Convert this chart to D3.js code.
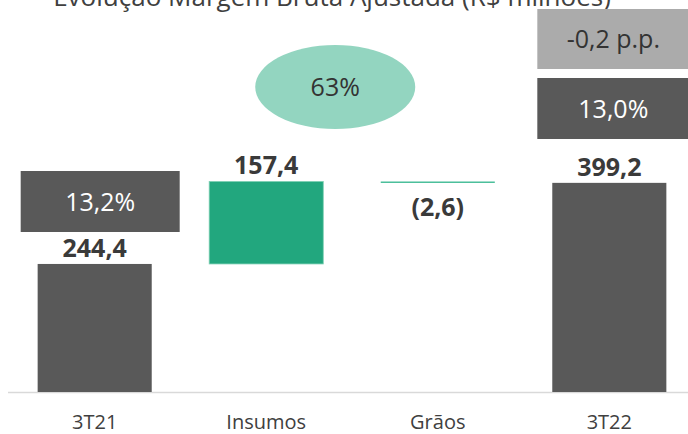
<!DOCTYPE html>
<html>
<head>
<meta charset="utf-8">
<script src="https://cdn.jsdelivr.net/npm/d3@7"></script>
<style>
  body { margin: 0; background: #fff; }
  svg { display: block; font-family: "Open Sans", sans-serif; }
</style>
</head>
<body>
<div id="chart"></div>
<script>
var categories = ["3T21", "Insumos", "Grãos", "3T22"];
var values = [244.4, 157.4, -2.6, 399.2];
var valueLabels = ["244,4", "157,4", "(2,6)", "399,2"];
var kinds = ["total", "delta", "delta", "total"];
var marginStart = "13,2%";
var marginEnd = "13,0%";
var marginDelta = "-0,2 p.p.";
var shareLabel = "63%";
var title = "Evolução Margem Bruta Ajustada (R$ milhões)";

var svgWidth = 688;
var svgHeight = 434;

var svg = d3.select("#chart")
  .append("svg")
  .attr("width", svgWidth)
  .attr("height", svgHeight);

// waterfall steps
var steps = [];
var running = 0;
values.forEach(function(v, i) {
  if (kinds[i] === "total") {
    steps.push({ cat: categories[i], y0: 0, y1: v, label: valueLabels[i], kind: "total" });
    running = v;
  } else {
    steps.push({ cat: categories[i], y0: running, y1: running + v, label: valueLabels[i], kind: v >= 0 ? "up" : "down" });
    running += v;
  }
});

var xScale = d3.scaleBand()
  .domain(categories)
  .range([9, 695])
  .paddingInner(0.335)
  .paddingOuter(0.167);

var yScale = d3.scaleLinear()
  .domain([0, 460])
  .range([392, 151]);

// title (cut at the top)
svg.append("text")
  .attr("x", 332)
  .attr("y", 6)
  .attr("text-anchor", "middle")
  .style("font-size", "26px")
  .style("fill", "#404040")
  .text(title);

// baseline
svg.append("line")
  .attr("x1", 8).attr("x2", 688)
  .attr("y1", yScale(0) + 0.5).attr("y2", yScale(0) + 0.5)
  .attr("stroke", "#d9d9d9")
  .attr("stroke-width", 1.5);

// bars
svg.selectAll("rect.bar")
  .data(steps)
  .enter()
  .append("rect")
  .attr("class", "bar")
  .attr("x", d => xScale(d.cat))
  .attr("width", xScale.bandwidth())
  .attr("y", d => yScale(Math.max(d.y0, d.y1)))
  .attr("height", d => Math.max(1.5, Math.abs(yScale(d.y0) - yScale(d.y1))))
  .attr("fill", d => d.kind === "total" ? "#595959" : (d.kind === "up" ? "#22a77e" : "#4cbf9b"))
  .attr("stroke", d => d.kind === "up" ? "#7dd0b3" : "none")
  .attr("stroke-width", 0.8);

// value labels
svg.selectAll("text.value")
  .data(steps)
  .enter()
  .append("text")
  .attr("class", "value")
  .attr("x", d => xScale(d.cat) + xScale.bandwidth() / 2)
  .attr("y", d => d.kind === "down" ? yScale(d.y1) + 33 : yScale(Math.max(d.y0, d.y1)) - 7)
  .attr("text-anchor", "middle")
  .style("font-size", "25px")
  .style("font-weight", "bold")
  .style("fill", "#3a3a3a")
  .text(d => d.label);

// category labels
svg.selectAll("text.cat")
  .data(categories)
  .enter()
  .append("text")
  .attr("class", "cat")
  .attr("x", d => xScale(d) + xScale.bandwidth() / 2)
  .attr("y", 429)
  .attr("text-anchor", "middle")
  .style("font-size", "20px")
  .style("fill", "#404040")
  .text(d => d);

// margin boxes
function box(cx, y, w, h, fill, color, txt) {
  svg.append("rect")
    .attr("x", cx - w / 2).attr("y", y)
    .attr("width", w).attr("height", h)
    .attr("fill", fill);
  svg.append("text")
    .attr("x", cx).attr("y", y + h / 2 + 9)
    .attr("text-anchor", "middle")
    .style("font-size", "25px")
    .style("fill", color)
    .text(txt);
}
var c0 = xScale(categories[0]) + xScale.bandwidth() / 2;
var c3 = xScale(categories[3]) + xScale.bandwidth() / 2;
box(c0 + 5.5, 171, 159, 61, "#595959", "#ffffff", marginStart);
box(c3 + 4, 78, 152, 61, "#595959", "#ffffff", marginEnd);
box(c3 + 4, 9, 152, 60, "#ababab", "#333333", marginDelta);

// share bubble
var c1 = xScale(categories[1]) + xScale.bandwidth() / 2;
svg.append("ellipse")
  .attr("cx", c1 + 69).attr("cy", 87)
  .attr("rx", 80).attr("ry", 42)
  .attr("fill", "#93d5c0");
svg.append("text")
  .attr("x", c1 + 69).attr("y", 96)
  .attr("text-anchor", "middle")
  .style("font-size", "25px")
  .style("fill", "#333333")
  .text(shareLabel);
</script>
</body>
</html>
